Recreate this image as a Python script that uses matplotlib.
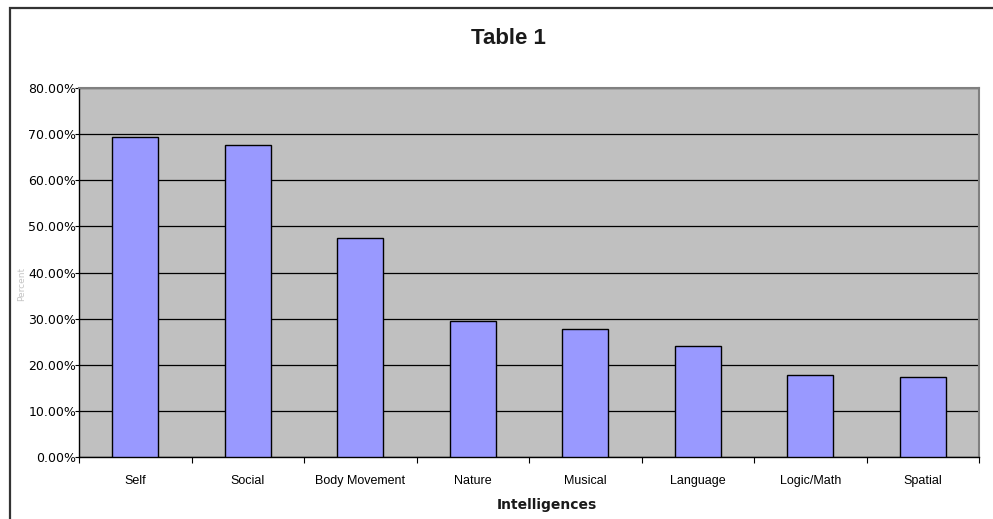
import matplotlib
matplotlib.use("Agg")
import matplotlib.pyplot as plt
from matplotlib.patches import Rectangle
from matplotlib.ticker import FixedLocator, FuncFormatter
import numpy as np

# Survey results: share of respondents whose strongest intelligence is each type
categories = ["Self", "Social", "Body Movement", "Nature", "Musical",
              "Language", "Logic/Math", "Spatial"]
percent = [69.3, 67.6, 47.5, 29.5, 27.8, 24.1, 17.9, 17.3]
y_ticks = [0, 10, 20, 30, 40, 50, 60, 70, 80]

W, H = 993, 519
fig = plt.figure(figsize=(W / 100, H / 100), dpi=100)
fig.patch.set_facecolor("white")

# plot area in pixel coordinates
left, right, top, bottom = 79, 979, 88, 457.3
ax = fig.add_axes([left / W, 1 - bottom / H, (right - left) / W, (bottom - top) / H])
ax.set_facecolor("#C0C0C0")

x = np.arange(len(categories))
ax.bar(x, percent, width=0.41, color="#9999FF", edgecolor="black",
       linewidth=1.0, zorder=3)

ax.set_xlim(-0.5, len(categories) - 0.5)
ax.set_ylim(0, 80)

# horizontal gridlines
ax.yaxis.set_major_locator(FixedLocator(y_ticks))
ax.yaxis.set_major_formatter(FuncFormatter(lambda v, p: f"{v:.2f}%"))
ax.grid(axis="y", color="black", linewidth=0.9, zorder=1)
ax.set_axisbelow(True)

for lbl in ax.get_yticklabels():
    lbl.set_family("DejaVu Sans")
ax.tick_params(axis="y", which="major", direction="out", length=3,
               width=0.8, pad=-1, labelsize=9, colors="black")

# category labels centred under bars, tick marks between categories
ax.set_xticks(x)
ax.set_xticklabels(categories, fontsize=9, family="Liberation Sans")
ax.tick_params(axis="x", which="major", length=0, pad=13)
ax.set_xticks(np.arange(-0.5, len(categories)), minor=True)
ax.tick_params(axis="x", which="minor", direction="out", length=4, width=0.8)

for s in ("left", "bottom"):
    ax.spines[s].set_color("black")
    ax.spines[s].set_linewidth(1.0)
for s in ("top", "right"):
    ax.spines[s].set_color("#808080")
    ax.spines[s].set_linewidth(1.5)

# title and axis titles
fig.text(508 / W, 1 - 39 / H, "Table 1", ha="center", va="center",
         fontsize=16, fontweight="bold", family="Liberation Sans", color="#1a1a1a")
fig.text(547 / W, 1 - 505 / H, "Intelligences", ha="center", va="center",
         fontsize=10, fontweight="bold", family="DejaVu Sans", color="#1a1a1a")
fig.text(22 / W, 1 - 284 / H, "Percent", ha="center", va="center",
         rotation=90, fontsize=6.5, family="DejaVu Sans", color="#C4C4C4")

# chart frame
fig.add_artist(Rectangle((10 / W, -0.2), 1.2, 1.2 - 8 / H, transform=fig.transFigure,
                         fill=False, edgecolor="#333333", linewidth=1.6))

fig.savefig("out.png", dpi=100, facecolor="white")
